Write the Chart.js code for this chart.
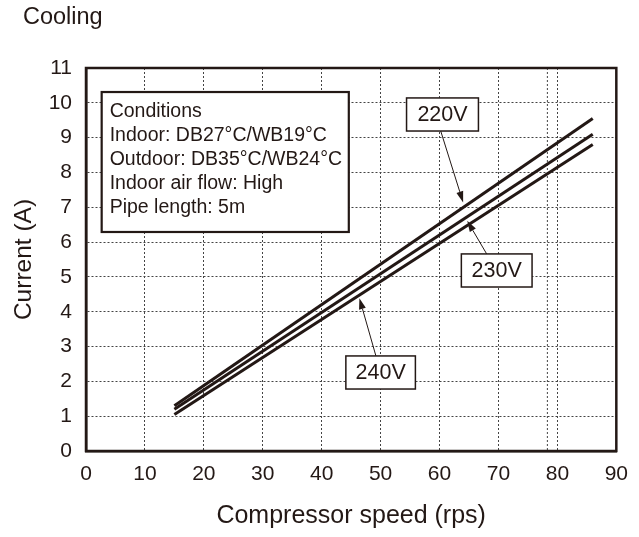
<!DOCTYPE html>
<html>
<head>
<meta charset="utf-8">
<script src="https://cdn.jsdelivr.net/npm/chart.js@4.4.1/dist/chart.umd.min.js"></script>
<style>
  body { margin: 0; background: #fff; }
  #wrap { width: 639px; height: 537px; }
</style>
</head>
<body>
<div id="wrap"><canvas id="cooling-chart" width="639" height="537"></canvas></div>
<script>
const speeds = [15, 86];
const current220 = [1.3, 9.55];
const current230 = [1.2, 9.1];
const current240 = [1.05, 8.8];
const seriesNames = ["220V", "230V", "240V"];

const conditions = [
    "Conditions",
    "Indoor: DB27°C/WB19°C",
    "Outdoor: DB35°C/WB24°C",
    "Indoor air flow: High",
    "Pipe length: 5m"
];

const ink = "#231815";
const fontFamily = "'Liberation Sans', Arial, sans-serif";

function toPoints(values) {
    return speeds.map((s, i) => ({ x: s, y: values[i] }));
}

function lineSet(label, values) {
    return {
        label: label,
        data: toPoints(values),
        borderColor: ink,
        borderWidth: 3,
        pointRadius: 0,
        fill: false
    };
}

// label boxes and arrows, in data units
const callouts = [
    { text: "220V", box: [54.4, 10.14, 66.6, 9.19], from: [60.2, 9.19], tip: [64.0, 7.14] },
    { text: "230V", box: [63.7, 5.66, 75.7, 4.71], from: [68.0, 5.66], tip: [64.7, 6.61] },
    { text: "240V", box: [44.1, 2.73, 55.9, 1.78], from: [49.2, 2.73], tip: [46.4, 4.39] }
];

const decorPlugin = {
    id: "decor",
    beforeDatasetsDraw(chart) {
        const { ctx, chartArea, scales } = chart;
        // odd extra grid line next to 80 in the original
        const gx = scales.x.getPixelForValue(78.3);
        ctx.save();
        ctx.strokeStyle = "#444";
        ctx.lineWidth = 1;
        ctx.setLineDash([2, 2]);
        ctx.beginPath();
        ctx.moveTo(gx, chartArea.top);
        ctx.lineTo(gx, chartArea.bottom);
        ctx.stroke();
        ctx.restore();
    },
    afterDraw(chart) {
        const { ctx, chartArea, scales } = chart;
        const px = v => scales.x.getPixelForValue(v);
        const py = v => scales.y.getPixelForValue(v);
        ctx.save();

        // frame
        ctx.strokeStyle = ink;
        ctx.lineWidth = 2.5;
        ctx.strokeRect(chartArea.left, chartArea.top, chartArea.right - chartArea.left, chartArea.bottom - chartArea.top);

        // title top-left
        ctx.fillStyle = ink;
        ctx.font = "23.5px " + fontFamily;
        ctx.textAlign = "left";
        ctx.textBaseline = "alphabetic";
        ctx.fillText("Cooling", 23, 24);

        // conditions box
        const bx = px(2.66), by = py(10.31), bw = px(44.6) - bx, bh = py(6.29) - by;
        ctx.fillStyle = "#fff";
        ctx.fillRect(bx, by, bw, bh);
        ctx.lineWidth = 2.2;
        ctx.strokeRect(bx, by, bw, bh);
        ctx.fillStyle = ink;
        ctx.font = "19.5px " + fontFamily;
        ctx.textBaseline = "middle";
        conditions.forEach((line, i) => {
            ctx.fillText(line, bx + 8, by + 20 + i * 24);
        });

        // callouts
        callouts.forEach(c => {
            const x1 = px(c.box[0]), y1 = py(c.box[1]), x2 = px(c.box[2]), y2 = py(c.box[3]);
            ctx.fillStyle = "#fff";
            ctx.fillRect(x1, y1, x2 - x1, y2 - y1);
            ctx.strokeStyle = ink;
            ctx.lineWidth = 1.5;
            ctx.strokeRect(x1, y1, x2 - x1, y2 - y1);
            ctx.fillStyle = ink;
            ctx.font = "21.5px " + fontFamily;
            ctx.textAlign = "center";
            ctx.textBaseline = "middle";
            ctx.fillText(c.text, (x1 + x2) / 2, (y1 + y2) / 2 + 1);

            const fx = px(c.from[0]), fy = py(c.from[1]), tx = px(c.tip[0]), ty = py(c.tip[1]);
            const ang = Math.atan2(ty - fy, tx - fx);
            const len = 11, half = 3.5;
            const bxp = tx - len * Math.cos(ang), byp = ty - len * Math.sin(ang);
            ctx.lineWidth = 1;
            ctx.beginPath();
            ctx.moveTo(fx, fy);
            ctx.lineTo(bxp, byp);
            ctx.stroke();
            ctx.beginPath();
            ctx.moveTo(tx, ty);
            ctx.lineTo(bxp + half * Math.sin(ang), byp - half * Math.cos(ang));
            ctx.lineTo(bxp - half * Math.sin(ang), byp + half * Math.cos(ang));
            ctx.closePath();
            ctx.fill();
        });
        ctx.restore();
    }
};

const tickFont = { family: fontFamily, size: 21 };

new Chart(document.getElementById("cooling-chart").getContext("2d"), {
    type: "line",
    data: {
        datasets: [
            lineSet(seriesNames[0], current220),
            lineSet(seriesNames[1], current230),
            lineSet(seriesNames[2], current240)
        ]
    },
    options: {
        responsive: false,
        animation: false,
        layout: { padding: { top: 68, right: 12, left: 0, bottom: 0 } },
        plugins: {
            legend: { display: false },
            tooltip: { enabled: false }
        },
        scales: {
            x: {
                type: "linear",
                min: 0,
                max: 90,
                afterFit: scale => { scale.height = 86; },
                ticks: { stepSize: 10, color: ink, font: tickFont, padding: 11, maxRotation: 0 },
                grid: { color: "#444", lineWidth: 1, drawTicks: false },
                border: { display: true, color: ink, width: 2.5, dash: [2, 2] },
                title: { display: true, text: "Compressor speed (rps)", color: ink, font: { family: fontFamily, size: 25 }, padding: { top: 0, bottom: 6 } }
            },
            y: {
                min: 0,
                max: 11,
                afterFit: scale => { scale.width = 86; },
                ticks: { stepSize: 1, color: ink, font: tickFont, padding: 14 },
                grid: { color: "#444", lineWidth: 1, drawTicks: false },
                border: { display: true, color: ink, width: 2.5, dash: [2, 2] },
                title: { display: true, text: "Current (A)", color: ink, font: { family: fontFamily, size: 24.5 }, padding: { top: 10, bottom: 0 } }
            }
        }
    },
    plugins: [decorPlugin]
});
</script>
</body>
</html>
